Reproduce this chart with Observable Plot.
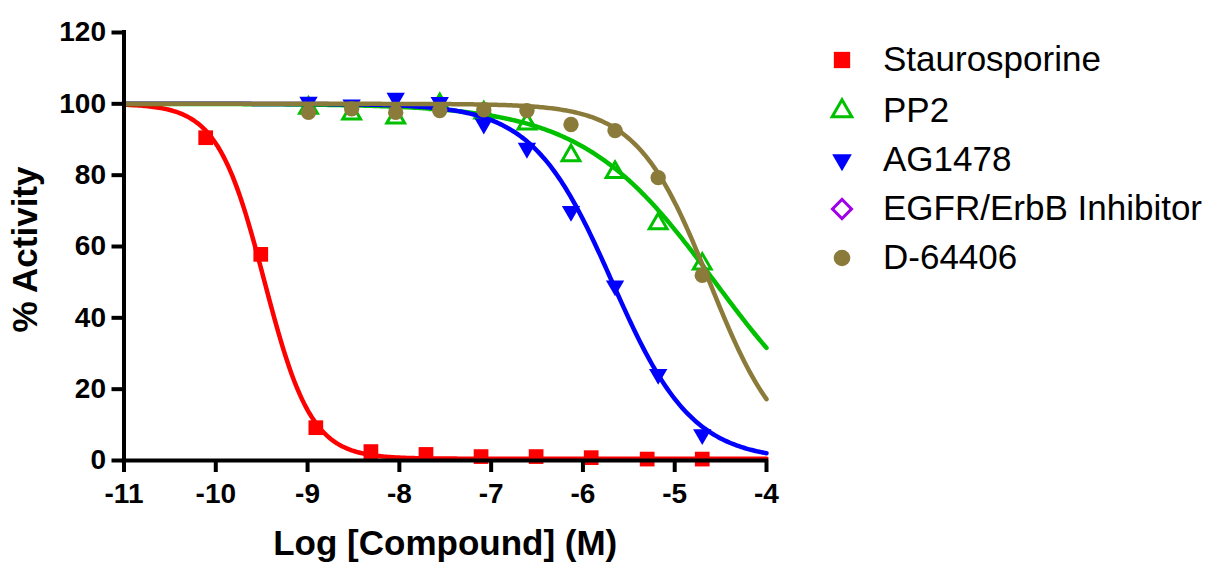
<!DOCTYPE html>
<html><head><meta charset="utf-8">
<script src="https://cdn.jsdelivr.net/npm/d3@7"></script>
<script src="https://cdn.jsdelivr.net/npm/@observablehq/plot@0.6"></script>
<style>
html,body{margin:0;padding:0;background:#fff;}
#wrap{position:relative;width:1210px;height:574px;overflow:hidden;}
#wrap svg.plot{position:absolute;left:0;top:0;}
.item{position:absolute;left:0;top:0;font-family:"Liberation Sans",Arial,sans-serif;font-size:35px;line-height:1;white-space:nowrap;color:#000;}
.item svg{position:absolute;}
</style></head><body><div id="wrap"></div>
<script>
// ---- data ----
const seriesNames = ["Staurosporine", "PP2", "AG1478", "EGFR/ErbB Inhibitor", "D-64406"];
const seriesColors = ["#ff0000", "#00c000", "#0000ff", "#a000e8", "#8b7b3a"];

// 4-fold dilution series (Staurosporine)
const xStaurosporine = [-10.11, -9.51, -8.91, -8.31, -7.71, -7.11, -6.51, -5.91, -5.30, -4.70];
const yStaurosporine = [90.5, 57.8, 9.2, 2.5, 1.7, 1.1, 1.1, 0.8, 0.4, 0.4];
// 3-fold dilution series (other compounds)
const xThreeFold = [-8.99, -8.52, -8.04, -7.56, -7.08, -6.61, -6.13, -5.65, -5.18, -4.70];
const yPP2 = [98.8, 97.2, 96.1, 99.8, 97.5, 94.4, 85.5, 80.8, 66.4, 55.1];
const yAG1478 = [100.5, 99.7, 101.6, 100.4, 94.4, 87.6, 69.9, 49.0, 24.2, 7.3];
const yD64406 = [97.6, 98.6, 97.6, 98.1, 98.3, 98.1, 94.2, 92.5, 79.3, 51.9];

// fitted sigmoidal dose-response parameters (estimated from the drawn curves)
const fitTop = [100, 100, 100, null, 100];
const fitBottom = [0.5, 0, 0, null, 0];
const fitLogIC50 = [-9.47, -4.56, -5.68, null, -4.62];
const fitHill = [1.7, 0.6, 1.0, null, 1.1];

const xTicks = [-11, -10, -9, -8, -7, -6, -5, -4];
const yTicks = [0, 20, 40, 60, 80, 100, 120];
const xTitle = "Log [Compound] (M)";
const yTitle = "% Activity";

// ---- build tables ----
const pointSets = [
  xStaurosporine.map((x, i) => ({x, y: yStaurosporine[i]})),
  xThreeFold.map((x, i) => ({x, y: yPP2[i]})),
  xThreeFold.map((x, i) => ({x, y: yAG1478[i]})),
  [],
  xThreeFold.map((x, i) => ({x, y: yD64406[i]}))
];
const xs = d3.range(0, 351).map(i => -11 + i * 0.02);
const curves = seriesNames.map((s, k) => fitTop[k] == null ? [] :
  xs.map(x => ({x, y: fitBottom[k] + (fitTop[k] - fitBottom[k]) / (1 + Math.pow(10, (x - fitLogIC50[k]) * fitHill[k]))})));

const triangleDown = {
  draw(context, size) {
    const y = Math.sqrt(size / (3 * Math.sqrt(3)));
    context.moveTo(0, 2 * y);
    context.lineTo(-Math.sqrt(3) * y, -y);
    context.lineTo(Math.sqrt(3) * y, -y);
    context.closePath();
  }
};
const dotStyles = [
  {symbol: "square", r: 8.3, fill: seriesColors[0]},
  {symbol: "triangle", r: 6.6, fill: "none", stroke: seriesColors[1], strokeWidth: 3},
  {symbol: triangleDown, r: 6.8, fill: seriesColors[2]},
  {symbol: "diamond", r: 7, fill: "none", stroke: seriesColors[3], strokeWidth: 3},
  {symbol: "circle", r: 7.7, fill: seriesColors[4]}
];

const marks = [];
for (let k = 0; k < seriesNames.length; k++) {
  if (curves[k].length) marks.push(Plot.line(curves[k], {x: "x", y: "y", stroke: seriesColors[k], strokeWidth: 4.5}));
  if (pointSets[k].length) marks.push(Plot.dot(pointSets[k], {x: "x", y: "y", ...dotStyles[k]}));
}

const font = "'Liberation Sans', Arial, sans-serif";
const chart = Plot.plot({
  width: 1210,
  height: 574,
  marginLeft: 123.5,
  marginRight: 444,
  marginTop: 32,
  marginBottom: 114,
  style: {fontFamily: font, background: "#fff", overflow: "visible"},
  x: {domain: [-11, -4]},
  y: {domain: [0, 120]},
  marks: [
    ...marks,
    Plot.ruleX([-11], {y1: 0, y2: 120, stroke: "#000", strokeWidth: 4, strokeLinecap: "square"}),
    Plot.ruleY([0], {x1: -11, x2: -4, stroke: "#000", strokeWidth: 4, strokeLinecap: "square"}),
    Plot.axisY({ticks: yTicks, tickSize: 12, tickPadding: 6, strokeWidth: 4, fontSize: 28, fontWeight: "bold", tickFormat: d => String(d), label: null}),
    Plot.axisX({ticks: xTicks, tickSize: 12, tickPadding: 11, strokeWidth: 4, fontSize: 28, fontWeight: "bold", tickFormat: d => String(d), label: null}),
    Plot.text([yTitle], {frameAnchor: "left", dx: -98, dy: 3, rotate: -90, fontSize: 35, fontWeight: "bold", textAnchor: "middle"}),
    Plot.text([xTitle], {frameAnchor: "bottom", dy: 94, fontSize: 35, fontWeight: "bold", textAnchor: "middle"})
  ]
});
chart.classList.add("plot");
const wrap = document.getElementById("wrap");
wrap.appendChild(chart);

// ---- legend (HTML, right of the plot) ----
const legendY = [60, 111, 160, 209, 258];
const legendMarkerX = 842, legendTextX = 883;
const legendR = [9.2, 7.3, 7.3, 7.6, 8.3];
seriesNames.forEach((name, k) => {
  const div = document.createElement("div");
  div.className = "item";
  const sym = dotStyles[k].symbol;
  const symObj = typeof sym === "string" ? {square: d3.symbolSquare, triangle: d3.symbolTriangle, diamond: d3.symbolSquare, circle: d3.symbolCircle}[sym] : sym;
  const size = Math.PI * legendR[k] * legendR[k];
  const path = d3.symbol(symObj, size)();
  const svg = d3.create("svg").attr("width", 40).attr("height", 40)
    .style("left", (legendMarkerX - 20) + "px").style("top", (legendY[k] - 20) + "px");
  svg.append("path").attr("d", path)
    .attr("transform", "translate(20,20)" + (sym === "diamond" ? " rotate(45)" : ""))
    .attr("fill", dotStyles[k].fill).attr("stroke", dotStyles[k].stroke || "none")
    .attr("stroke-width", dotStyles[k].strokeWidth || 0);
  div.appendChild(svg.node());
  const span = document.createElement("span");
  span.textContent = name;
  span.style.position = "absolute";
  span.style.left = legendTextX + "px";
  span.style.top = (legendY[k] - 18.6) + "px";
  div.appendChild(span);
  wrap.appendChild(div);
});
</script></body></html>
